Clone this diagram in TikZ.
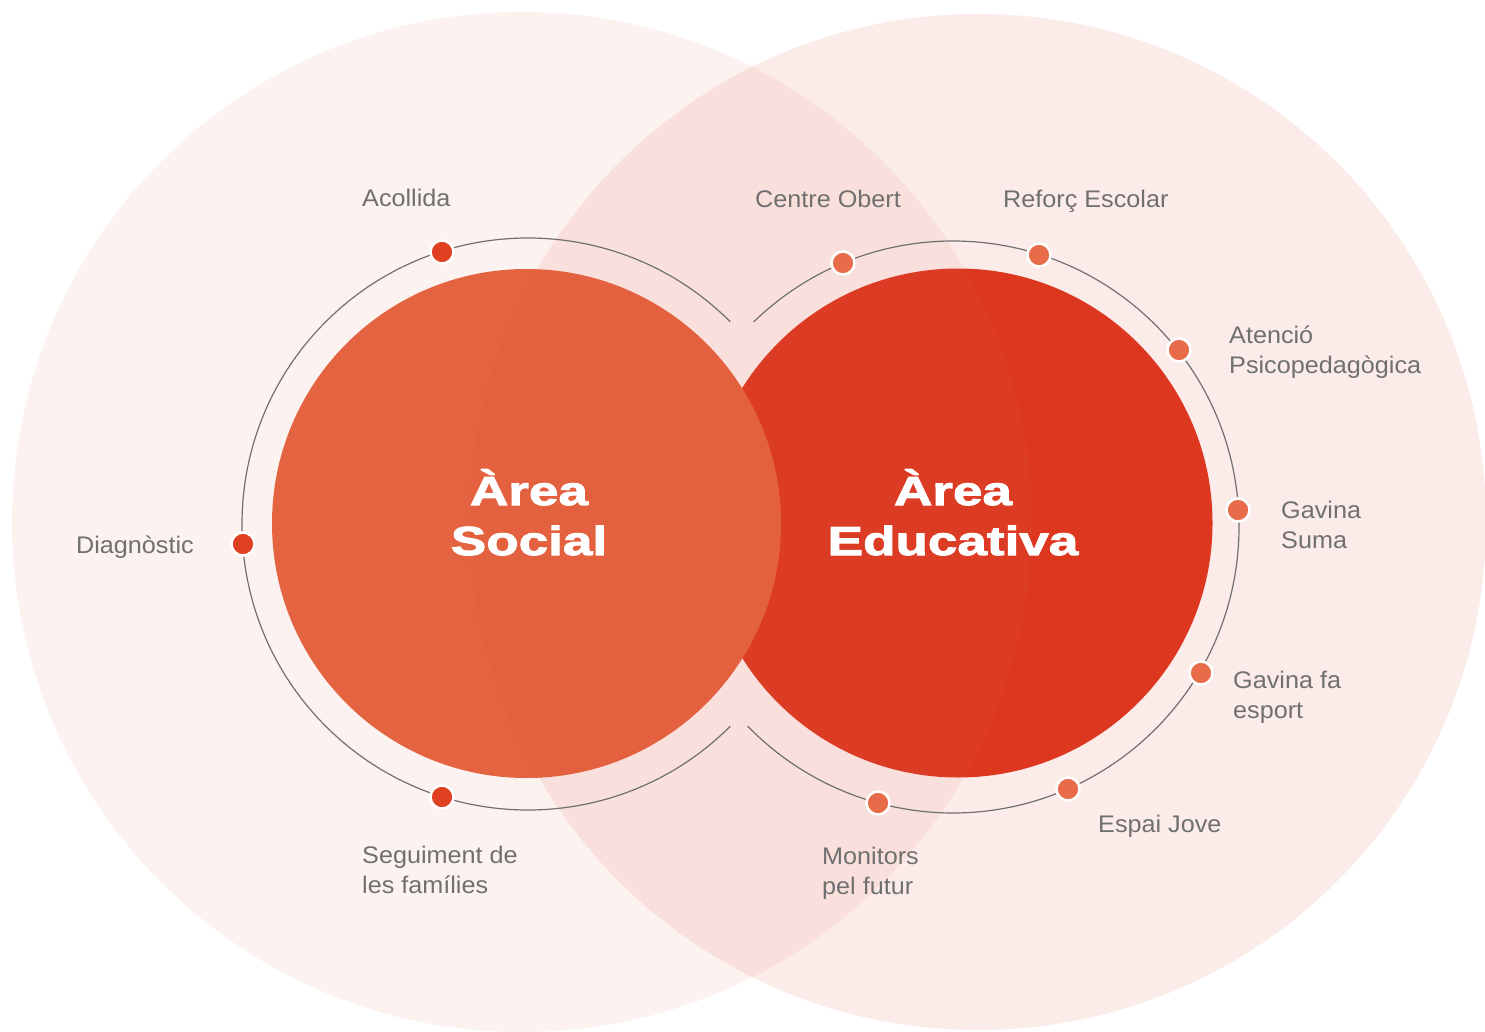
\documentclass[tikz,border=0pt]{standalone}
\usepackage{fontspec}
\setmainfont{Liberation Sans}
\newfontfamily\lblfont[FakeStretch=1.05]{Liberation Sans}
\newfontfamily\ttlfont[FakeStretch=1.31,FakeBold=2.5,UprightFont=* Bold]{Liberation Sans}
\definecolor{solidL}{RGB}{229,98,62}
\definecolor{solidR}{RGB}{221,52,29}
\definecolor{bigL}{RGB}{228,110,90}
\definecolor{bigR}{RGB}{225,85,60}
\definecolor{dotL}{RGB}{224,64,34}
\definecolor{dotR}{RGB}{232,107,74}
\definecolor{lblgray}{RGB}{112,112,112}
\definecolor{ringgray}{RGB}{112,112,112}
\begin{document}
\begin{tikzpicture}[x=1pt,y=-1pt,
  lbl/.style={font=\lblfont\fontsize{24}{30}\selectfont, text=lblgray, inner sep=0pt, align=left},
  ttl/.style={font=\ttlfont\fontsize{40.5}{50}\selectfont, text=white, inner sep=0pt, align=center},
  ringline/.style={draw=ringgray, line width=1.2pt},
  dotbase/.style={circle, draw=white, line width=2.5pt, minimum size=23pt, inner sep=0pt},
  dotl/.style={dotbase, fill=dotL},
  dotr/.style={dotbase, fill=dotR}]
\useasboundingbox (0,0) rectangle (1485,1032);
\fill[white] (0,0) rectangle (1485,1032);
% solid circles
\fill[solidR] (958,523) circle[radius=254.5];
\fill[solidL] (526.5,523.5) circle[radius=254.5];
% big translucent circles
\fill[bigL, opacity=0.085] (522,522) circle[radius=510];
\fill[bigR, opacity=0.11] (978,522) circle[radius=508];
% rings
\draw[ringline] (528,524) ++(-45:286) arc[start angle=-45, end angle=-315, radius=286];
\draw[ringline] (953,527) ++(-134.2:286) arc[start angle=-134.2, end angle=135.9, radius=286];
% dots
\node[dotl] (acollida) at (442,252) {};
\node[dotl] (diagnostic) at (243,544) {};
\node[dotl] (seguiment) at (442,797) {};
\node[dotr] (centre) at (843,263) {};
\node[dotr] (reforc) at (1039,255) {};
\node[dotr] (atencio) at (1179,350) {};
\node[dotr] (suma) at (1238,510) {};
\node[dotr] (esport) at (1201,673) {};
\node[dotr] (jove) at (1068,789) {};
\node[dotr] (monitors) at (878,803) {};
% labels (base anchor = baseline of last line)
\node[lbl, anchor=base west] (tacollida) at (362,207) {Acollida};
\node[lbl, anchor=base east] (tdiagnostic) at (194,553) {Diagnòstic};
\node[lbl, anchor=base west] (tseguiment) at (362,893) {Seguiment de\\les famílies};
\node[lbl, anchor=base west] (tcentre) at (755,208) {Centre Obert};
\node[lbl, anchor=base west] (treforc) at (1003,208) {Reforç Escolar};
\node[lbl, anchor=base west] (tatencio) at (1229,373) {Atenció\\Psicopedagògica};
\node[lbl, anchor=base west] (tsuma) at (1281,548) {Gavina\\Suma};
\node[lbl, anchor=base west] (tesport) at (1233,718) {Gavina fa\\esport};
\node[lbl, anchor=base west] (tjove) at (1098,832) {Espai Jove};
\node[lbl, anchor=base west] (tmonitors) at (822,894) {Monitors\\pel futur};
% titles
\node[ttl, anchor=base] (social) at (529,555) {Àrea\\Social};
\node[ttl, anchor=base] (educativa) at (953,555) {Àrea\\Educativa};
\end{tikzpicture}
\end{document}
